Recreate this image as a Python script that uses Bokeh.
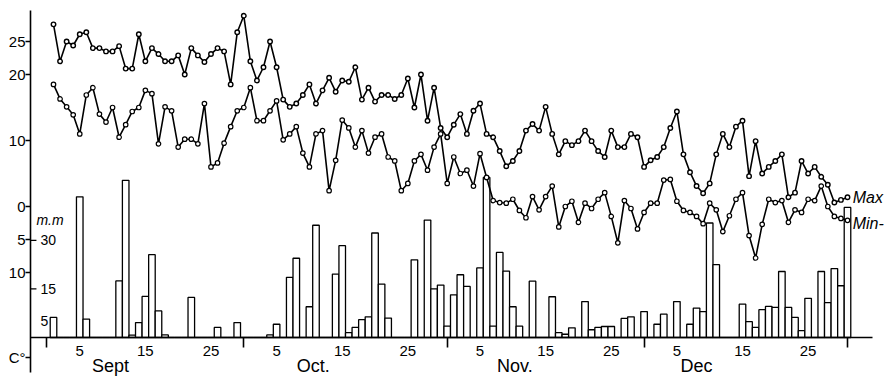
from bokeh.plotting import figure
from bokeh.models import Range1d, LinearAxis, FixedTicker
from bokeh.core.properties import value
from bokeh.embed import file_html
from bokeh.resources import INLINE

# ---- data (day 0 = 1 Sept, day 121 = 31 Dec) ----
days = list(range(122))

t_max = [27.6, 22.0, 25.0, 24.4, 26.1, 26.4, 24.0, 24.0, 23.5, 23.5,
         24.3, 20.9, 20.9, 26.1, 22.0, 24.0, 23.1, 22.0, 22.0, 22.9,
         20.0, 24.0, 22.9, 21.9, 23.1, 24.0, 23.5, 18.5, 26.4, 28.9,
         22.0, 19.1, 21.1, 25.0, 21.1, 16.2, 15.1, 15.6, 16.9, 18.5,
         15.6, 17.6, 19.5, 17.4, 19.1, 18.9, 21.1, 16.2, 18.0, 15.9,
         16.9, 16.9, 16.3, 16.9, 19.4, 15.0, 20.0, 13.0, 18.0, 11.9,
         10.5, 12.4, 14.0, 11.0, 14.5, 15.6, 11.0, 10.5, 8.4, 6.1,
         6.9, 8.4, 11.5, 12.5, 11.5, 15.1, 11.0, 7.9, 9.9, 9.3,
         9.9, 11.5, 9.9, 8.4, 7.5, 11.5, 9.0, 9.0, 11.0, 10.5,
         6.0, 7.0, 7.5, 9.0, 11.9, 14.4, 7.9, 5.2, 3.1, 2.0,
         3.5, 7.9, 11.0, 9.0, 12.1, 13.0, 4.6, 9.9, 5.0, 6.0,
         6.9, 7.9, 1.4, 2.1, 6.9, 5.0, 6.0, 4.5, 3.3, 0.6,
         1.0, 1.4]

t_min = [18.5, 16.3, 15.1, 13.9, 11.0, 16.9, 18.0, 14.0, 12.8, 15.0,
         10.5, 12.4, 14.4, 15.0, 17.6, 17.1, 9.5, 15.1, 14.5, 9.0,
         10.2, 10.2, 9.5, 15.6, 6.0, 6.6, 9.6, 12.1, 14.5, 15.0,
         18.0, 13.0, 13.0, 14.5, 16.0, 10.1, 11.0, 12.1, 8.1, 6.0,
         11.0, 11.5, 2.4, 7.0, 13.1, 11.9, 9.0, 11.5, 8.1, 10.5,
         11.0, 7.5, 6.9, 2.4, 3.5, 6.9, 7.9, 5.5, 9.0, 11.0,
         3.5, 7.5, 5.0, 5.5, 3.1, 8.0, 4.4, 0.9, 0.6, 0.5,
         1.1, -0.6, -1.7, 1.5, -0.5, 1.5, 3.1, -3.1, 0.0, 0.8,
         -2.4, 0.5, -0.3, 1.1, 2.1, -1.5, -5.5, 0.9, -0.3, -3.4,
         -0.9, 0.5, 0.5, 4.0, 4.1, 0.8, -0.6, -0.9, -1.5, -2.6,
         0.5, -0.5, -3.8, -1.4, 1.1, 2.1, -4.4, -7.8, -2.7, 1.1,
         0.6, 0.9, -2.4, -0.5, -0.9, 1.1, 0.9, 3.1, 0.0, -1.5,
         -1.8, -2.1]

rain = [6.2, 0, 0, 0, 43.5, 5.7, 0, 0, 0, 0,
        17.5, 48.6, 0.7, 4.6, 12.7, 25.6, 8.2, 0.8, 0, 0,
        0, 12.4, 0, 0, 0, 3.1, 0, 0, 4.6, 0,
        0, 0, 0, 0.8, 4.1, 0, 18.6, 24.5, 0, 9.5,
        34.7, 0, 0, 19.6, 28.4, 1.5, 3.1, 5.5, 6.4, 32.3,
        16.5, 6.0, 0, 0, 0, 24.0, 0, 36.3, 15.0, 16.2,
        3.5, 13.2, 19.4, 15.8, 0, 21.5, 49.5, 3.5, 26.3, 20.5,
        9.5, 3.5, 0, 17.4, 0, 0, 12.6, 1.5, 1.0, 3.0,
        0, 11.1, 2.4, 3.1, 3.4, 3.4, 0, 5.9, 6.4, 0,
        8.0, 0, 4.1, 7.2, 0, 11.1, 0, 4.1, 9.1, 8.0,
        35.4, 22.5, 0, 0, 0, 10.3, 4.9, 3.1, 8.6, 9.6,
        9.3, 20.4, 9.3, 6.2, 2.1, 12.1, 0, 20.4, 10.8, 21.3,
        16.0, 40.2]

temp_ticks = [-10, -5, 0, 10, 20, 25]
temp_labels = {-10: "10", -5: "5"}
unit_label_pos = -22.9          # where the "C°" unit sits on the temperature axis
day_ticks = [4, 14, 24, 34, 44, 54, 65, 75, 85, 95, 105, 115]
day_labels = ["5", "15", "25"] * 4
month_end_days = [-1, 29, 60, 90, 121]
month_pos = [8.7, 39.6, 70.3, 98.0]
month_names = ["Sept", "Oct.", "Nov.", "Dec"]
mm_ticks = [30, 15, 5]

FONT = "Liberation Sans"
T_BASE = -19.85      # temperature level of the rain baseline
T_MONTH = -21.8      # level of the month-name row

p = figure(width=884, height=378, output_backend="svg", toolbar_location=None,
           title=None,
           x_range=Range1d(-3.505, 126.64), y_range=Range1d(-26.06, 29.70),
           x_axis_location=None, y_axis_location=None,
           min_border_left=30, min_border_right=0, min_border_top=10,
           min_border_bottom=0)
p.extra_y_ranges = {"mm": Range1d(-12.68, 101.1)}
p.grid.visible = False
p.outline_line_color = None
p.background_fill_color = "white"
p.border_fill_color = "white"

# temperature axis (with the unit "C°" below the baseline)
yticks = temp_ticks + [unit_label_pos]
ylabels = dict(temp_labels)
ylabels[unit_label_pos] = "C°"
yax = LinearAxis(ticker=FixedTicker(ticks=yticks),
                 major_label_overrides=ylabels,
                 major_tick_out=5, major_tick_in=0, minor_tick_out=0,
                 minor_tick_in=0, major_label_standoff=0,
                 axis_line_width=1.6, major_tick_line_width=1.3,
                 bounds=(-25.15, 29.70),
                 major_label_text_font=FONT,
                 major_label_text_font_size="15px",
                 major_label_text_color="black")
p.add_layout(yax, "left")

# day axis on the rain baseline
xax = LinearAxis(ticker=FixedTicker(ticks=day_ticks, minor_ticks=month_end_days),
                 major_label_overrides={d: l for d, l in zip(day_ticks, day_labels)},
                 fixed_location=T_BASE,
                 major_tick_out=0, major_tick_in=0,
                 minor_tick_out=10, minor_tick_in=0,
                 minor_tick_line_width=1.6, minor_tick_line_color="black",
                 major_label_standoff=-2, axis_line_width=1.6,
                 bounds=(-3.505, 124.8),
                 major_label_text_font=FONT,
                 major_label_text_font_size="15px",
                 major_label_text_color="black")
p.add_layout(xax, "below")

# month names
mx = LinearAxis(ticker=FixedTicker(ticks=month_pos),
                major_label_overrides={d: m for d, m in zip(month_pos, month_names)},
                fixed_location=T_MONTH,
                axis_line_color=None, major_tick_line_color=None,
                minor_tick_line_color=None, major_label_standoff=0,
                major_label_text_font=FONT,
                major_label_text_font_size="18px",
                major_label_text_color="black")
p.add_layout(mx, "below")

# precipitation bars
p.vbar(x=days, top=rain, bottom=0, width=1.0, y_range_name="mm",
       fill_color="white", line_color="black", line_width=1.3)

# mm scale labels (inside the frame, right of axis)
p.text(x=[-2.0] * len(mm_ticks), y=mm_ticks, text=[str(v) for v in mm_ticks],
       y_range_name="mm", text_font=value(FONT), text_font_size="14px",
       text_baseline="middle", text_align="left", text_color="black")
p.segment(x0=[-3.505] * 2, y0=mm_ticks[:2], x1=[-2.6] * 2, y1=mm_ticks[:2],
          y_range_name="mm", line_color="black", line_width=1.2)
p.text(x=[-2.6], y=[36.2], text=["m.m"], y_range_name="mm",
       text_font=value(FONT), text_font_size="14px", text_font_style="italic",
       text_baseline="middle", text_align="left", text_color="black")

# temperature lines
p.line(days, t_max, line_color="black", line_width=1.6)
p.scatter(days, t_max, marker="circle", size=4.5, fill_color="white",
          line_color="black", line_width=1.4)
p.line(days, t_min, line_color="black", line_width=1.6)
p.scatter(days, t_min, marker="circle", size=4.5, fill_color="white",
          line_color="black", line_width=1.2)

p.text(x=[121.8, 121.8], y=[1.4, -2.6], text=["Max", "Min-"],
       text_font=value(FONT), text_font_size="16px", text_font_style="italic",
       text_baseline="middle", text_align="left", text_color="black")

open("out.html", "w").write(file_html(p, INLINE))
